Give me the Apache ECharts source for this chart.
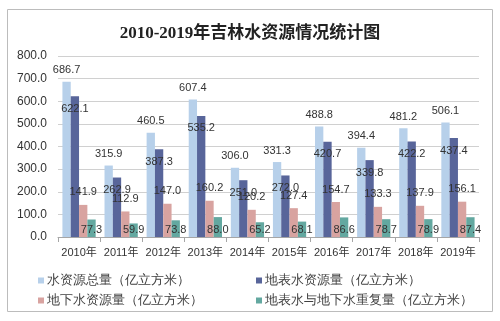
<!DOCTYPE html>
<html><head><meta charset="utf-8">
<script src="https://cdn.jsdelivr.net/npm/echarts@6/dist/echarts.min.js"></script>
<style>html,body{margin:0;padding:0;background:#fff}#c{width:500px;height:321px}</style>
</head><body><div id="c"></div>
<script>
const categories = ['2010年','2011年','2012年','2013年','2014年','2015年','2016年','2017年','2018年','2019年'];
const totalWater = [686.7, 315.9, 460.5, 607.4, 306.0, 331.3, 488.8, 394.4, 481.2, 506.1];
const surfaceWater = [622.1, 262.9, 387.3, 535.2, 251.0, 272.0, 420.7, 339.8, 422.2, 437.4];
const groundWater = [141.9, 112.9, 147.0, 160.2, 120.2, 127.4, 154.7, 133.3, 137.9, 156.1];
const overlapWater = [77.3, 59.9, 73.8, 88.0, 65.2, 68.1, 86.6, 78.7, 78.9, 87.4];
const seriesNames = ['水资源总量（亿立方米）','地表水资源量（亿立方米）','地下水资源量（亿立方米）','地表水与地下水重复量（亿立方米）'];
const colors = ['#b7d0ea','#58659a','#d8a3a0','#63a8a0'];

const chart = echarts.init(document.getElementById('c'));
const lbl = (pos, dist) => ({show:true, position:pos, distance:dist, color:'#333', fontSize:11, fontFamily:'Arial, Liberation Sans, sans-serif', formatter: p => p.value.toFixed(1)});
const datas = [totalWater, surfaceWater, groundWater, overlapWater];
const positions = [['top',6],['insideTop',7],['top',7],['insideBottom',2]];
chart.setOption({
  animation:false,
  color: colors,
  title:{text:'2010-2019年吉林水资源情况统计图', left:'center', top:20,
    textStyle:{fontSize:17, fontWeight:'bold', color:'#222', fontFamily:'Liberation Serif, Noto Sans CJK SC, serif'}},
  graphic:[{type:'rect', shape:{x:7.5,y:9.5,width:485,height:302}, style:{fill:'none', stroke:'#bcbcbc', lineWidth:1}, silent:true}],
  legend:[
    {orient:'vertical', left:33, top:269, itemWidth:6, itemHeight:6, icon:'rect', itemGap:7,
     data:[seriesNames[0], seriesNames[2]], textStyle:{fontSize:13, color:'#404040', padding:[0,0,0,-2]}},
    {orient:'vertical', left:251, top:269, itemWidth:6, itemHeight:6, icon:'rect', itemGap:7,
     data:[seriesNames[1], seriesNames[3]], textStyle:{fontSize:13, color:'#404040', padding:[0,0,0,-2]}}
  ],
  grid:{left:58, right:21, top:56, bottom:84},
  xAxis:{type:'category', data:categories,
    axisLine:{lineStyle:{color:'#a6a6a6'}},
    axisTick:{show:true, length:5, interval:0, lineStyle:{color:'#a6a6a6'}},
    axisLabel:{color:'#333', fontSize:11, margin:10, interval:0, fontFamily:'Arial, Liberation Sans, Noto Sans CJK SC, sans-serif'}},
  yAxis:{type:'value', min:0, max:800, interval:100,
    axisLine:{show:false}, axisTick:{show:false},
    splitLine:{lineStyle:{color:'#d0d0d0'}},
    axisLabel:{color:'#333', fontSize:12, margin:11, formatter: v => v.toFixed(1), fontFamily:'Arial, Liberation Sans, sans-serif'}},
  series: datas.map((d,i) => ({
    name: seriesNames[i], type:'bar', data:d, barGap:'0%', barCategoryGap:'21%',
    itemStyle:{color:colors[i]}, label: lbl(positions[i][0], positions[i][1]), z: 2
  }))
});
</script></body></html>
